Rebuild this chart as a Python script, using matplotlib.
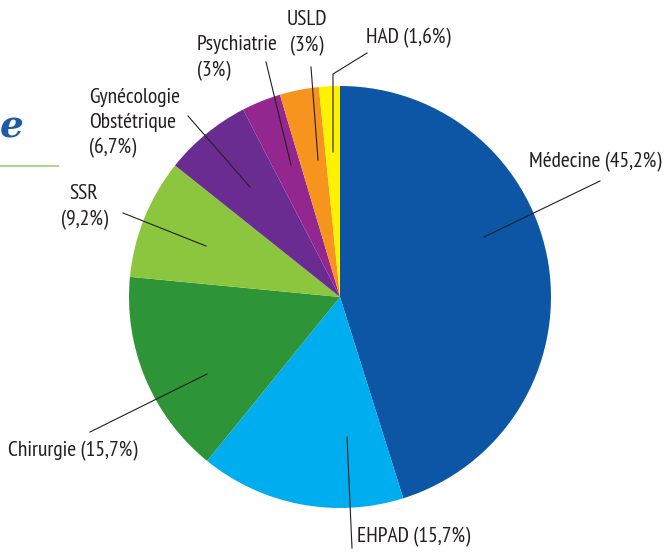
import matplotlib.pyplot as plt
from matplotlib import font_manager
from matplotlib.font_manager import FontProperties

# data
labels = ["Médecine", "EHPAD", "Chirurgie", "SSR", "Gynécologie\nObstétrique",
          "Psychiatrie", "USLD", "HAD"]
values = [45.2, 15.7, 15.7, 9.2, 6.7, 3, 3, 1.6]
value_text = ["45,2%", "15,7%", "15,7%", "9,2%", "6,7%", "3%", "3%", "1,6%"]
colors = ["#0D55A5", "#00AEEF", "#2E9438", "#8CC63F", "#6B2C91",
          "#93278F", "#F7941D", "#FFF200"]

# look for a narrow sans face, the labels are set in a condensed font
best, best_rank = None, 99
for f in font_manager.fontManager.ttflist:
    nm = (f.name + " " + f.fname.split("/")[-1]).lower()
    if "mono" in nm or "serif" in nm or "italic" in nm or "oblique" in nm:
        continue
    if "bold" in nm or "light" in nm or "thin" in nm or "black" in nm:
        continue
    if f.style != "normal":
        continue
    if not ("narrow" in nm or "condensed" in nm or f.stretch in ("condensed", "semi-condensed")):
        continue
    if "sans" not in nm:
        continue
    rank = 10
    if "narrow" in nm:
        rank = 1
    elif "semi" in nm or f.stretch == "semi-condensed":
        rank = 6
    elif "extra" in nm or "ultra" in nm:
        rank = 4
    else:
        rank = 2
    if "medium" in nm:
        rank -= 0.5
    if rank < best_rank:
        best, best_rank = f.fname, rank

if best:
    fp = FontProperties(fname=best, size=15.5)
else:
    fp = FontProperties(family="DejaVu Sans", size=11)

W, H = 669, 552
cx, cy, r = 340, 297, 211

fig = plt.figure(figsize=(W / 100, H / 100), dpi=100)
ax = fig.add_axes([(cx - r) / W, (H - cy - r) / H, 2 * r / W, 2 * r / H])
ax.pie(values, colors=colors, startangle=90, counterclock=False,
       radius=1, wedgeprops=dict(linewidth=0))
ax.set_xlim(-1, 1)
ax.set_ylim(-1, 1)
ax.axis("off")


def d(px, py):
    # pixel position -> data position of the pie axes
    return ((px - cx) / r, (cy - py) / r)


# label layout: text anchor, ha, leader line points (pixels)
layout = [
    ((529, 162), "left", [(484, 237), (600, 181)]),
    ((357, 537), "left", [(347, 437), (352, 548)]),
    ((8, 451), "left", [(207, 374), (90, 432)]),
    ((84, 207), "center", [(206, 246), (123, 213)]),
    ((89, 123), "left", [(250, 187), (188, 116)]),
    ((197, 58), "left", [(291, 165), (266, 62)]),
    ((307, 33), "center", [(318, 160), (311, 67)]),
    ((366, 38), "left", [(333, 152), (333, 74), (367, 53)]),
]

for i, (pos, ha, pts) in enumerate(layout):
    name = labels[i]
    if i in (3, 4, 5, 6):
        txt = f"{name}\n({value_text[i]})"
    else:
        txt = f"{name} ({value_text[i]})"
    ax.text(*d(*pos), txt, ha=ha, va="center", fontproperties=fp,
            color="#231F20", linespacing=1.4, clip_on=False)
    xs = [d(*p)[0] for p in pts]
    ys = [d(*p)[1] for p in pts]
    ax.plot(xs, ys, color="#231F20", lw=0.8, clip_on=False)

# cropped title remnant
fig.text(0, 1 - 137 / H, "e", ha="left", va="baseline", fontsize=27,
         color="#1F5AA6", style="italic", weight="bold", family="DejaVu Serif")
fig.add_artist(plt.Line2D([0, 58 / W], [1 - 166 / H, 1 - 166 / H],
                          color="#B5D58F", lw=1.5))

fig.savefig("out.png", dpi=100)
